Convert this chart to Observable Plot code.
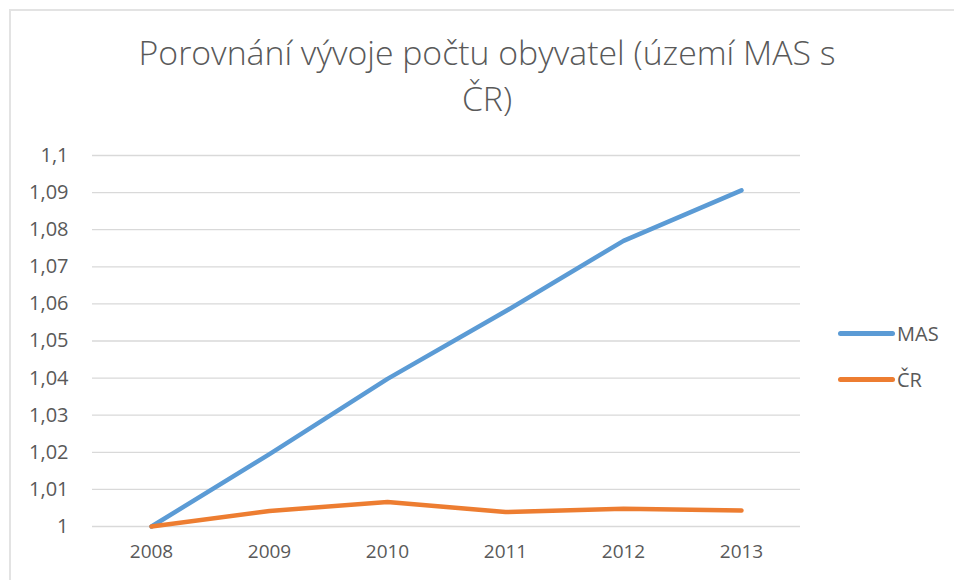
<!DOCTYPE html>
<html>
<head>
<meta charset="utf-8">
<script src="https://cdn.jsdelivr.net/npm/d3@7"></script>
<script src="https://cdn.jsdelivr.net/npm/@observablehq/plot@0.6"></script>
<style>
  html, body { margin: 0; padding: 0; background: #fff; }
  #wrap { position: relative; width: 954px; height: 580px; overflow: hidden; font-family: "Open Sans", Lato, sans-serif; color: #595959; }
  #frame { position: absolute; left: 9px; top: 9px; width: 1000px; height: 1000px; border: 2px solid #e3e3e3; box-sizing: border-box; }
  #title { position: absolute; left: 0; width: 974px; top: 29px; text-align: center; font-size: 33.8px; font-weight: 300; line-height: 46px; color: #595959; }
  #chart { position: absolute; left: 0; top: 0; }
  .leg { position: absolute; left: 838px; height: 24px; display: flex; align-items: center; font-size: 20px; color: #595959; }
  .leg .sw { width: 57px; height: 5px; border-radius: 3px; margin-right: 2px; }
</style>
</head>
<body>
<div id="wrap">
  <div id="frame"></div>
  <div id="chart"></div>
  <div id="title">Porovnání vývoje počtu obyvatel (území MAS s<br>ČR)</div>
  <div id="legend"></div>
</div>
<script>
const years = ["2008", "2009", "2010", "2011", "2012", "2013"];
const seriesNames = ["MAS", "ČR"];
const masValues = [1.000, 1.0195, 1.0398, 1.0580, 1.0770, 1.0906];
const crValues = [1.000, 1.0042, 1.0066, 1.0039, 1.0048, 1.0043];
const seriesColors = ["#5B9BD5", "#ED7D31"];
const yTicks = [1, 1.01, 1.02, 1.03, 1.04, 1.05, 1.06, 1.07, 1.08, 1.09, 1.1];

const rows = [];
[masValues, crValues].forEach((vals, i) => {
  vals.forEach((v, j) => rows.push({series: seriesNames[i], year: years[j], value: v}));
});

const fmt = d => d3.format(".2~f")(d).replace(".", ",");

const chart = Plot.plot({
  width: 954,
  height: 580,
  marginLeft: 92,
  marginRight: 154,
  marginTop: 155,
  marginBottom: 54,
  style: {fontFamily: "'Open Sans', Lato, sans-serif", fontSize: "19px", color: "#595959", background: "transparent"},
  x: {type: "point", domain: years, padding: 0.5, label: null},
  y: {domain: [1, 1.1], label: null},
  color: {domain: seriesNames, range: seriesColors},
  marks: [
    Plot.ruleY(yTicks, {stroke: "#d9d9d9", strokeWidth: 1.3}),
    Plot.axisY({ticks: yTicks, tickFormat: fmt, tickSize: 0, tickPadding: 24, fill: "#595959", fontSize: 20, label: null}),
    Plot.axisX({tickSize: 0, tickPadding: 18, fill: "#595959", fontSize: 19, label: null}),
    Plot.line(rows, {x: "year", y: "value", z: "series", stroke: "series", strokeWidth: 4.5, strokeLinecap: "round", strokeLinejoin: "round"})
  ]
});
document.getElementById("chart").appendChild(chart);

const legend = document.getElementById("legend");
const legTops = [321, 367];
seriesNames.forEach((name, i) => {
  const item = document.createElement("div");
  item.className = "leg";
  item.style.top = legTops[i] + "px";
  const sw = document.createElement("div");
  sw.className = "sw";
  sw.style.background = seriesColors[i];
  const label = document.createElement("span");
  label.textContent = name;
  item.appendChild(sw);
  item.appendChild(label);
  legend.appendChild(item);
});
</script>
</body>
</html>
